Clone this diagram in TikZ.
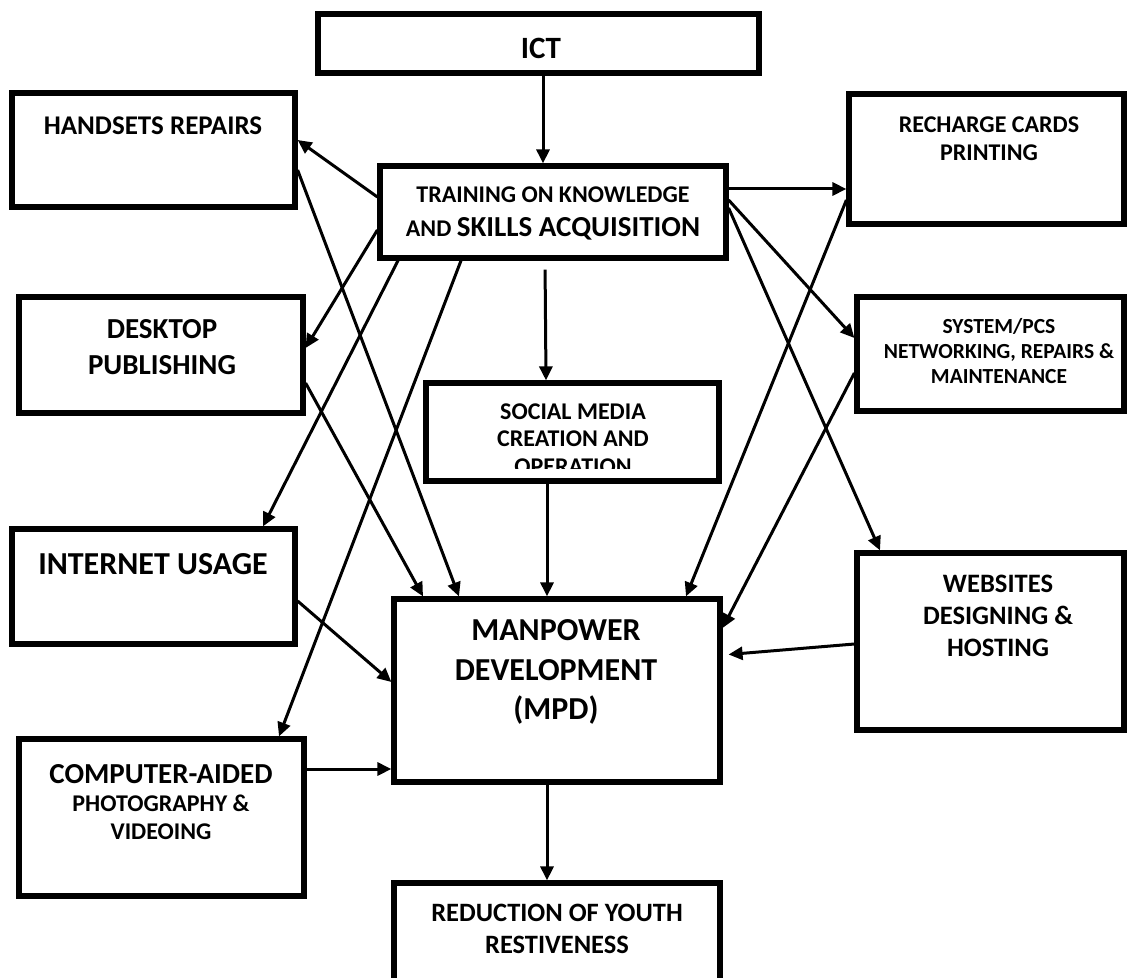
\documentclass[tikz,border=0pt]{standalone}
\usepackage{fontspec}
\setmainfont{Carlito}
\usetikzlibrary{arrows.meta, positioning, calc}
\newcommand{\fsz}[2]{\fontsize{#1}{#2}\selectfont}
\tikzset{
  box/.style={rectangle, draw=black, line width=2.6pt, inner sep=0pt},
  lbl/.style={align=center, inner sep=0pt, font=\bfseries},
  arr/.style={-{Triangle[length=7pt, width=6.5pt]}, line width=1.5pt},
}

\begin{document}
\begin{tikzpicture}[x=0.5pt, y=-0.5pt]
  \useasboundingbox (0,0) rectangle (1128,978);

  % boxes
  \node[box, minimum width=220.5pt, minimum height=29.5pt] (ict) at (538.5,43.5) {};
  \node[box, minimum width=141.5pt, minimum height=57pt] (hand) at (153.5,150) {};
  \node[box, minimum width=173pt, minimum height=46pt] (train) at (553,212) {};
  \node[box, minimum width=137.5pt, minimum height=65pt] (recharge) at (986.5,159) {};
  \node[box, minimum width=142pt, minimum height=58pt] (desk) at (161,355) {};
  \node[box, minimum width=146.5pt, minimum height=49pt] (social) at (572.5,432) {};
  \node[box, minimum width=133.5pt, minimum height=57pt] (system) at (990.5,354) {};
  \node[box, minimum width=141.5pt, minimum height=57.5pt] (inet) at (153.5,586.5) {};
  \node[box, minimum width=163pt, minimum height=91.5pt] (mpd) at (557,690.5) {};
  \node[box, minimum width=133.5pt, minimum height=88.5pt] (web) at (990.5,641.5) {};
  \node[box, minimum width=142.5pt, minimum height=78.5pt] (comp) at (161.5,817.5) {};
  \node[box, minimum width=163pt, minimum height=58.5pt] (reduc) at (557,941.5) {};

  % texts
  \node[lbl, font=\bfseries\fsz{15.5}{19}] (icttxt) at (541,48) {ICT};
  \node[lbl, font=\bfseries\fsz{13.5}{16}] (handtxt) at (153,126) {HANDSETS REPAIRS};
  \node[lbl, font=\bfseries\fsz{12}{17}] (traintxt) at (553,213)
    {TRAINING ON KNOWLEDGE\\AND {\fsz{14.5}{17}SKILLS ACQUISITION}};
  \node[lbl, font=\bfseries\fsz{12}{14}] (rechtxt) at (989,139) {RECHARGE CARDS\\PRINTING};
  \node[lbl, font=\bfseries\fsz{14.5}{18}] (desktxt) at (162,347) {DESKTOP\\PUBLISHING};
  \begin{scope}
    \clip (426,383) rectangle (719,468);
    \node[lbl, font=\bfseries\fsz{12}{13.75}] (socialtxt) at (573,439)
      {SOCIAL MEDIA\\CREATION AND\\OPERATION};
  \end{scope}
  \node[lbl, font=\bfseries\fsz{10.75}{12.5}] (systxt) at (999,351)
    {SYSTEM/PCS\\NETWORKING, REPAIRS \&\\MAINTENANCE};
  \node[lbl, font=\bfseries\fsz{16}{19}] (inettxt) at (153,564) {INTERNET USAGE};
  \node[lbl, font=\bfseries\fsz{16}{19.75}] (mpdtxt) at (556,672)
    {MANPOWER\\DEVELOPMENT\\(MPD)};
  \node[lbl, font=\bfseries\fsz{13.3}{16}] (webtxt) at (998,616)
    {WEBSITES\\DESIGNING \&\\HOSTING};
  \node[lbl, font=\bfseries\fsz{12}{14}] (comptxt) at (161,802)
    {{\fsz{14.5}{16}COMPUTER-AIDED}\\PHOTOGRAPHY \&\\VIDEOING};
  \node[lbl, font=\bfseries\fsz{13.25}{16}] (reductxt) at (557,929)
    {REDUCTION OF YOUTH\\RESTIVENESS};

  % connectors out of training
  \draw[arr] (ict.south -| 543,0) -- (train.north -| 543,0);
  \draw[arr] (train.west |- 0,197) -- (hand.east |- 0,140);
  \draw[arr] (train.west |- 0,230) -- (desk.east |- 0,348);
  \draw[arr] (train.south -| 398,0) -- (inet.north -| 263,0);
  \draw[arr] (train.south -| 461,0) -- (comp.north -| 279,0);
  \draw[arr, shorten <=4.5pt] (train.south -| 545,0) -- (social.north -| 546,0);
  \draw[arr] (train.east |- 0,189) -- (recharge.west |- 0,189);
  \draw[arr] (train.east |- 0,200) -- (system.west |- 0,338);
  \draw[arr] (train.east |- 0,208) -- (web.north -| 880,0);

  % connectors into mpd
  \draw[arr] (hand.east |- 0,170) -- (mpd.north -| 459,0);
  \draw[arr] (desk.east |- 0,383) -- (mpd.north -| 423,0);
  \draw[arr] (inet.east |- 0,601) -- (mpd.west |- 0,682);
  \draw[arr] (comp.east |- 0,769) -- (mpd.west |- 0,769);
  \draw[arr] (social.south -| 547,0) -- (mpd.north -| 547,0);
  \draw[arr] (recharge.west |- 0,200) -- (mpd.north -| 686,0);
  \draw[arr] (system.west |- 0,373) -- (mpd.east |- 0,628);
  \draw[arr, shorten >=3pt] (web.west |- 0,644) -- (mpd.east |- 0,655);
  \draw[arr] (mpd.south -| 547,0) -- (reduc.north -| 547,0);
\end{tikzpicture}
\end{document}
